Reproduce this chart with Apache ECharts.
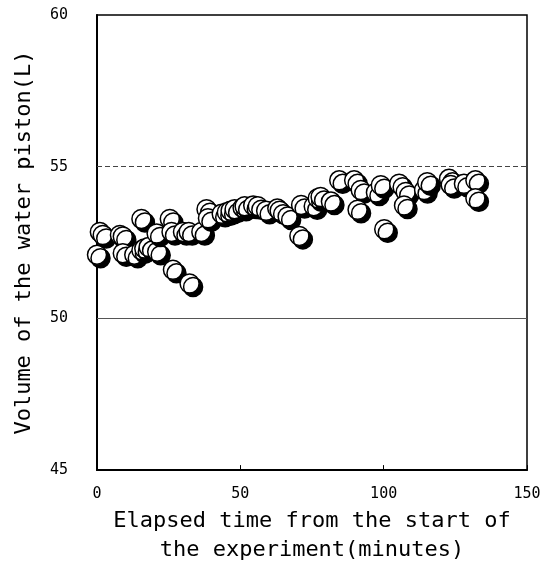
<!DOCTYPE html>
<html>
<head>
<meta charset="utf-8">
<script src="https://cdn.jsdelivr.net/npm/echarts@6/dist/echarts.min.js"></script>
<style>html,body{margin:0;padding:0;background:#fff}#c{width:549px;height:570px}</style>
</head>
<body>
<div id="c"></div>
<script>
// Elapsed time (minutes)
const timeMin = [0, 1, 2, 8, 9, 9, 13, 15.5, 16.5, 15.5, 18, 21, 20.8, 25.4, 26, 26.5, 30, 32, 32.3, 36.4,
  38.2, 38.7, 43.5, 45.3, 46.6, 48, 50.8, 51.5, 54.5, 56.1, 59, 62.9, 63.7, 66.5, 71.2, 70.6, 75.6, 77, 78,
  81.6, 84.5, 89.7, 92, 90.9, 97.3, 99, 100.2, 105.4, 107.7, 107.1, 114.1, 115.2, 122.8, 123.4, 128, 132, 132];
// Volume of the water piston (L)
const volumeL = [52.1, 52.85, 52.75, 52.75, 52.7, 52.15, 52.1, 52.25, 52.3, 53.28, 52.35, 52.2, 52.8, 53.28, 52.85, 51.6, 52.85, 52.85, 51.15, 52.85,
  53.6, 53.3, 53.45, 53.5, 53.55, 53.6, 53.65, 53.7, 53.72, 53.7, 53.55, 53.62, 53.55, 53.36, 53.74, 52.72, 53.7, 53.96, 54.0,
  53.85, 54.55, 54.55, 54.23, 53.58, 54.15, 54.39, 52.94, 54.44, 54.17, 53.72, 54.23, 54.49, 54.6, 54.4, 54.44, 54.55, 53.96];
const xTicks = [0, 50, 100, 150];
const yTicks = [45, 50, 55, 60];
const yRefSolid = 50;
const yRefDashed = 55;

const points = timeMin.map((t, i) => [t, volumeL[i]]);
const FONT = 'DejaVu Sans Mono';

const chart = echarts.init(document.getElementById('c'), null, {renderer: 'canvas'});
chart.setOption({
  animation: false,
  backgroundColor: '#fff',
  grid: {left: 97, right: 22, top: 15, bottom: 90, show: true, borderColor: '#000', borderWidth: 1.5, backgroundColor: 'transparent'},
  xAxis: {
    type: 'value', min: xTicks[0], max: xTicks[xTicks.length - 1], interval: 50,
    axisLine: {show: true, lineStyle: {color: '#000', width: 2}},
    axisTick: {show: true, inside: true, length: 5, lineStyle: {color: '#000'}},
    splitLine: {show: false},
    axisLabel: {color: '#000', fontFamily: FONT, fontSize: 15, margin: 17},
    name: 'Elapsed time from the start of\nthe experiment(minutes)',
    nameLocation: 'middle', nameGap: 34,
    nameTextStyle: {color: '#000', fontFamily: FONT, fontSize: 22, lineHeight: 29}
  },
  yAxis: {
    type: 'value', min: yTicks[0], max: yTicks[yTicks.length - 1], interval: 5,
    axisLine: {show: true, lineStyle: {color: '#000', width: 2}},
    axisTick: {show: false},
    splitLine: {show: false},
    axisLabel: {color: '#000', fontFamily: FONT, fontSize: 15, margin: 29},
    name: 'Volume of the water piston(L)',
    nameLocation: 'middle', nameGap: 62, nameRotate: 90,
    nameTextStyle: {color: '#000', fontFamily: FONT, fontSize: 22}
  },
  series: [{
    type: 'scatter',
    data: points,
    symbol: 'circle',
    symbolSize: 19,
    itemStyle: {color: '#fff', borderColor: '#000', borderWidth: 1.5, shadowColor: '#000', shadowOffsetX: 3.5, shadowOffsetY: 3.5, shadowBlur: 0, opacity: 1},
    markLine: {
      silent: true, symbol: 'none', label: {show: false}, z: 1,
      data: [
        {yAxis: yRefSolid, lineStyle: {color: '#555', width: 1, type: 'solid'}},
        {yAxis: yRefDashed, lineStyle: {color: '#444', width: 1, type: [5, 3]}}
      ]
    }
  }]
});
</script>
</body>
</html>
